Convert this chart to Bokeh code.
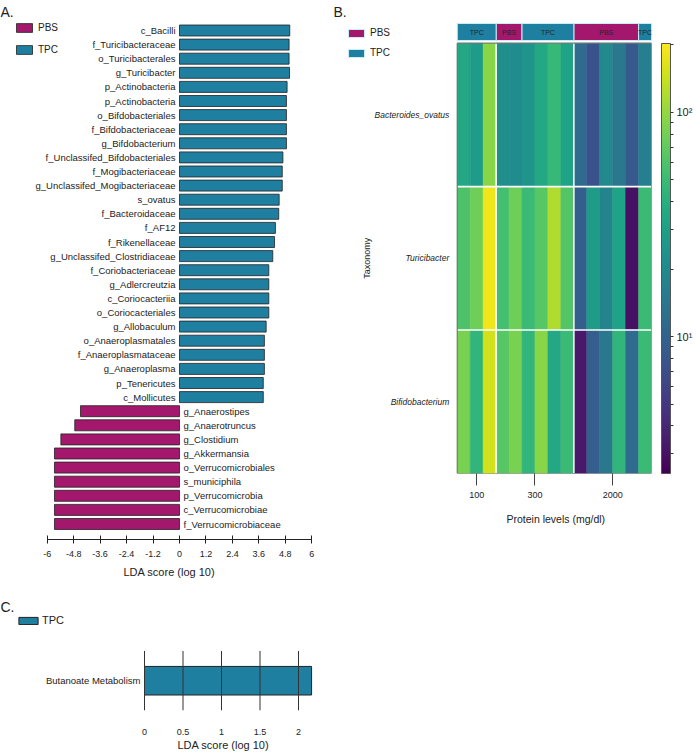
import math
from bokeh.plotting import figure
from bokeh.models import (Range1d, FixedTicker, Legend, LegendItem, Label, Title,
                          ColumnDataSource, LogColorMapper, ColorBar)
from bokeh.layouts import row, column
from bokeh.palettes import Viridis256
from bokeh.transform import transform
from bokeh.core.properties import value
from bokeh.embed import file_html
from bokeh.resources import INLINE

# ---------------- data ----------------
# Panel A: LEfSe LDA scores
tpc_taxa = ["c_Bacilli", "f_Turicibacteraceae", "o_Turicibacterales", "g_Turicibacter",
            "p_Actinobacteria", "p_Actinobacteria", "o_Bifdobacteriales", "f_Bifdobacteriaceae",
            "g_Bifdobacterium", "f_Unclassifed_Bifdobacteriales", "f_Mogibacteriaceae",
            "g_Unclassifed_Mogibacteriaceae", "s_ovatus", "f_Bacteroidaceae", "f_AF12",
            "f_Rikenellaceae", "g_Unclassifed_Clostridiaceae", "f_Coriobacteriaceae",
            "g_Adlercreutzia", "c_Coriocacteriia", "o_Coriocacteriales", "g_Allobaculum",
            "o_Anaeroplasmatales", "f_Anaeroplasmataceae", "g_Anaeroplasma", "p_Tenericutes",
            "c_Mollicutes"]
tpc_lda = [5.00, 4.97, 4.97, 4.99, 4.88, 4.85, 4.85, 4.85, 4.85, 4.69, 4.66, 4.66, 4.52,
           4.50, 4.35, 4.31, 4.23, 4.05, 4.05, 4.05, 4.05, 3.93, 3.85, 3.85, 3.85, 3.80, 3.80]
pbs_taxa = ["g_Anaerostipes", "g_Anaerotruncus", "g_Clostidium", "g_Akkermansia",
            "o_Verrucomicrobiales", "s_municiphila", "p_Verrucomicrobia", "c_Verrucomicrobiae",
            "f_Verrucomicrobiaceae"]
pbs_lda = [-4.49, -4.75, -5.38, -5.67, -5.67, -5.67, -5.67, -5.67, -5.67]
lda_ticks = [-6, -4.8, -3.6, -2.4, -1.2, 0, 1.2, 2.4, 3.6, 4.8, 6]
lda_tick_labels = ["-6", "-4.8", "-3.6", "-2.4", "-1.2", "0", "1.2", "2.4", "3.6", "4.8", "6"]

# Panel B: heatmap
heat_taxa = ["Bacteroides_ovatus", "Turicibacter", "Bifidobacterium"]
sample_group = ["TPC", "TPC", "TPC", "PBS", "PBS", "TPC", "TPC", "TPC", "TPC",
                "PBS", "PBS", "PBS", "PBS", "PBS", "TPC"]
sample_level = ["100", "100", "100", "300", "300", "300", "300", "300", "300",
                "2000", "2000", "2000", "2000", "2000", "2000"]
protein_levels = ["100", "300", "2000"]
ovatus_abund = [35, 28, 92, 22, 21, 24, 35, 47, 32, 11.5, 7.4, 20, 14.4, 8.4, 16.4]
turicibacter_abund = [59, 77, 186, 54, 77, 50, 64, 120, 62, 9.2, 28, 18, 32, 3.0, 50]
bifidobacterium_abund = [84, 45, 149, 64, 84, 45, 92, 35, 50, 3.3, 9.2, 14.4, 45, 11.5, 50]
cbar_ticks = [10, 100]
cbar_tick_labels = ["10\u00b9", "10\u00b2"]
cbar_minor_ticks = [3, 4, 5, 6, 7, 8, 9, 20, 30, 40, 50, 60, 70, 80, 90, 200]

# Panel C: pathway LDA
pathways = ["Butanoate Metabolism"]
pathway_lda = [2.17]
pathway_ticks = [0.0, 0.5, 1.0, 1.5, 2.0]

# ---------------- styles ----------------
FONT = "Liberation Sans"
TPC_COLOR = "#1e7fa1"
PBS_COLOR = "#a3186d"
GROUP_COLORS = {"TPC": TPC_COLOR, "PBS": PBS_COLOR}
DARK = "#222222"


def base_fig(**kw):
    p = figure(output_backend="svg", toolbar_location=None, frame_align=False, **kw)
    p.outline_line_color = None
    p.xgrid.visible = False
    p.ygrid.visible = False
    p.background_fill_color = "white"
    p.border_fill_color = "white"
    return p


def style_legend(leg, gw, gh, spacing, fs):
    leg.border_line_color = None
    leg.background_fill_alpha = 0
    leg.glyph_width = gw
    leg.glyph_height = gh
    leg.label_height = gh
    leg.label_width = 10
    leg.spacing = spacing
    leg.padding = 0
    leg.margin = 0
    leg.label_standoff = 4
    leg.label_text_font = FONT
    leg.label_text_font_size = fs
    leg.label_text_color = DARK


def axis_title(text, offset, standoff, size="11px"):
    return Title(text=text, align="left", offset=offset, standoff=standoff,
                 vertical_align="top", text_font=FONT, text_font_size=size,
                 text_font_style="normal", text_color=DARK)


# ================= Panel A =================
A_W, A_H = 320, 588
A_X0, A_KX = 179.0, 22.05      # px of LDA 0 and px per LDA unit
A_Y0, A_KY = 523.5, 14.1       # px of lowest bar centre and px per bar slot
A_FB = 539                     # frame bottom (axis line)


def a_x(px):
    return (px - A_X0) / A_KX


def a_y(py):
    return (A_Y0 - py) / A_KY


n_all = len(tpc_taxa) + len(pbs_taxa)
tpc_pos = [n_all - 1 - i for i in range(len(tpc_taxa))]
pbs_pos = [n_all - 1 - len(tpc_taxa) - i for i in range(len(pbs_taxa))]

pA = base_fig(width=A_W, height=A_H,
              x_range=Range1d(a_x(0), a_x(A_W)), y_range=Range1d(a_y(A_FB), a_y(0)),
              min_border_left=0, min_border_right=0, min_border_top=0,
              min_border_bottom=A_H - A_FB)
pA.yaxis.visible = False

src_tpc = ColumnDataSource(dict(y=tpc_pos, v=tpc_lda, name=tpc_taxa))
src_pbs = ColumnDataSource(dict(y=pbs_pos, v=pbs_lda, name=pbs_taxa))
rT = pA.hbar(y="y", left=0, right="v", height=0.78, source=src_tpc,
             fill_color=TPC_COLOR, line_color=DARK, line_width=0.8)
rP = pA.hbar(y="y", left=0, right="v", height=0.78, source=src_pbs,
             fill_color=PBS_COLOR, line_color=DARK, line_width=0.8)
pA.text(x=0, y="y", text="name", source=src_tpc, x_offset=-4, text_align="right",
        text_baseline="middle", text_font=value(FONT), text_font_size="9.5px", text_color=DARK)
pA.text(x=0, y="y", text="name", source=src_pbs, x_offset=4, text_align="left",
        text_baseline="middle", text_font=value(FONT), text_font_size="9.5px", text_color=DARK)

ax = pA.xaxis[0]
ax.ticker = FixedTicker(ticks=lda_ticks)
ax.bounds = (lda_ticks[0], lda_ticks[-1])
ax.major_label_overrides = {t: l for t, l in zip(lda_ticks, lda_tick_labels)}
ax.major_tick_in = 4
ax.major_tick_out = 4
ax.minor_tick_line_color = None
ax.axis_line_color = DARK
ax.major_tick_line_color = DARK
ax.major_label_standoff = 7
ax.major_label_text_font = FONT
ax.major_label_text_font_size = "9px"
ax.major_label_text_color = DARK
pA.add_layout(axis_title("LDA score (log 10)", 123, 13), "below")

legA = Legend(items=[LegendItem(label="PBS", renderers=[rP]),
                     LegendItem(label="TPC", renderers=[rT])],
              location=(14, 484))
style_legend(legA, 20, 11, 11, "10px")
pA.add_layout(legA)
pA.add_layout(Label(x=a_x(0), y=a_y(3), text="A.", text_font=FONT, text_font_size="14px",
                    text_baseline="top", text_align="left", text_color=DARK))

# ================= Panel B =================
B_LEFT = 320                   # canvas left edge on the page
B_W, B_H = 375, 541
B_X0, B_KX = 458.0, 13.07      # px of heatmap left edge, px per sample column
B_Y0, B_KY = 473.0, 143.45     # px of heatmap bottom, px per taxon row
B_FR = 654                     # frame right


def b_x(px):
    return (px - B_X0) / B_KX


def b_y(py):
    return (B_Y0 - py) / B_KY


ncols = len(sample_group)
nrows = len(heat_taxa)
row_values = [ovatus_abund, turicibacter_abund, bifidobacterium_abund]

pB = base_fig(width=B_W, height=B_H,
              x_range=Range1d(b_x(B_LEFT), b_x(B_FR)), y_range=Range1d(0, b_y(0)),
              min_border_left=0, min_border_right=B_LEFT + B_W - B_FR, min_border_top=0,
              min_border_bottom=B_H - int(B_Y0))

mapper = LogColorMapper(palette=Viridis256, low=2.45, high=203)
cx, cy, cv = [], [], []
for r, vals in enumerate(row_values):
    for c, v in enumerate(vals):
        cx.append(c + 0.5)
        cy.append(nrows - 1 - r + 0.5)
        cv.append(v)
src_heat = ColumnDataSource(dict(x=cx, y=cy, v=cv))
pB.rect(x="x", y="y", width=1, height=1, source=src_heat,
        fill_color=transform("v", mapper), line_color=transform("v", mapper), line_width=0.6)

# separators between taxa rows and protein-level groups
level_bounds = [i for i in range(1, ncols) if sample_level[i] != sample_level[i - 1]]
seg_x0 = [0] * (nrows - 1) + level_bounds
seg_x1 = [ncols] * (nrows - 1) + level_bounds
seg_y0 = list(range(1, nrows)) + [0] * len(level_bounds)
seg_y1 = list(range(1, nrows)) + [nrows] * len(level_bounds)
pB.segment(x0=seg_x0, y0=seg_y0, x1=seg_x1, y1=seg_y1, line_color="white", line_width=1.6)
pB.rect(x=ncols / 2, y=nrows / 2, width=ncols, height=nrows, fill_color=None,
        line_color="#6e6e6e", line_width=1)

# header annotation (runs of treatment group)
runs = []
start = 0
for i in range(1, ncols + 1):
    if i == ncols or sample_group[i] != sample_group[start]:
        runs.append((start, i, sample_group[start]))
        start = i
h_bot, h_top = b_y(40), b_y(23)
hdr_renderers = {}
for grp in ["PBS", "TPC"]:
    rr = [r for r in runs if r[2] == grp]
    s = ColumnDataSource(dict(x=[(a + b) / 2 for a, b, _ in rr], w=[b - a for a, b, _ in rr]))
    hdr_renderers[grp] = pB.rect(x="x", y=(h_bot + h_top) / 2, width="w", height=h_top - h_bot,
                                 source=s, fill_color=GROUP_COLORS[grp],
                                 line_color="#c9ecf6", line_width=1)
pB.text(x=[(a + b) / 2 for a, b, _ in runs], y=(h_bot + h_top) / 2, text=[g for _, _, g in runs],
        text_align="center", text_baseline="middle", text_font=value(FONT),
        text_font_size="7px", text_color="#262626")

# taxon labels and axis name (inside the frame so they are not clipped)
row_centers = [nrows - 1 - r + 0.5 for r in range(nrows)]
pB.text(x=0, y=row_centers, text=heat_taxa, x_offset=-8, text_align="right",
        text_baseline="middle", text_font=value(FONT), text_font_size="8.5px",
        text_font_style="italic", text_color=DARK)
pB.text(x=b_x(367), y=nrows / 2, text=["Taxonomy"], angle=math.pi / 2, text_align="center",
        text_baseline="middle", text_font=value(FONT), text_font_size="9px", text_color=DARK)
pB.yaxis.visible = False

level_centers = []
for lvl in protein_levels:
    idx = [i for i, l in enumerate(sample_level) if l == lvl]
    level_centers.append((idx[0] + idx[-1] + 1) / 2)
bx = pB.xaxis[0]
bx.ticker = FixedTicker(ticks=level_centers)
bx.major_label_overrides = {c: l for c, l in zip(level_centers, protein_levels)}
bx.axis_line_color = None
bx.major_tick_in = 0
bx.major_tick_out = 12
bx.major_tick_line_color = "#444444"
bx.minor_tick_line_color = None
bx.major_label_standoff = 6
bx.major_label_text_font = FONT
bx.major_label_text_font_size = "9px"
bx.major_label_text_color = DARK
pB.add_layout(axis_title("Protein levels (mg/dl)", 506 - B_LEFT, 24, "10.5px"), "below")

pB.add_layout(Label(x=b_x(333), y=b_y(3), text="B.", text_font=FONT, text_font_size="14px",
                    text_baseline="top", text_align="left", text_color=DARK))

legB = Legend(items=[LegendItem(label="PBS", renderers=[hdr_renderers["PBS"]]),
                     LegendItem(label="TPC", renderers=[hdr_renderers["TPC"]])],
              location=(346 - B_LEFT, 415))
style_legend(legB, 20, 10, 9, "10px")
pB.add_layout(legB)

cb = ColorBar(color_mapper=mapper,
              ticker=FixedTicker(ticks=cbar_ticks, minor_ticks=cbar_minor_ticks),
              major_label_overrides={t: l for t, l in zip(cbar_ticks, cbar_tick_labels)},
              width=9, height=430, location=(10, 0), margin=0, padding=0,
              label_standoff=3, major_tick_in=0, major_tick_out=3, minor_tick_in=0,
              minor_tick_out=3, major_tick_line_color="#333333",
              minor_tick_line_color="#333333", bar_line_color="#555555",
              major_label_text_font=FONT, major_label_text_font_size="11px",
              major_label_text_color=DARK, background_fill_color=None,
              border_line_color=None)
pB.add_layout(cb, "right")

# ================= Panel C =================
C_TOP = 588                    # canvas top on the page
C_W, C_H = 320, 165
C_X0, C_KX = 144.0, 77.0       # px of LDA 0, px per unit
C_Y0, C_KY = 715.0, 62.0       # px of band bottom, band height
C_FB = 715                     # frame bottom


def c_x(px):
    return (px - C_X0) / C_KX


def c_y(py):
    return (C_Y0 - py) / C_KY


pC = base_fig(width=C_W, height=C_H, x_range=Range1d(c_x(0), c_x(C_W)),
              y_range=Range1d(c_y(C_FB), c_y(C_TOP)),
              min_border_left=0, min_border_right=0, min_border_top=0,
              min_border_bottom=C_TOP + C_H - C_FB)
pC.yaxis.visible = False
path_pos = [len(pathways) - 0.5 - i for i in range(len(pathways))]
rC = pC.hbar(y=path_pos, left=0, right=pathway_lda, height=0.48,
             fill_color=TPC_COLOR, line_color=DARK, line_width=1)
# vertical reference lines at the axis ticks, spanning the pathway band
pC.segment(x0=pathway_ticks, x1=pathway_ticks, y0=0, y1=len(pathways),
           line_color="#333333", line_width=1)
pC.text(x=0, y=path_pos, text=pathways, x_offset=-4, text_align="right",
        text_baseline="middle", text_font=value(FONT), text_font_size="9.5px", text_color=DARK)

cxa = pC.xaxis[0]
cxa.ticker = FixedTicker(ticks=pathway_ticks)
cxa.axis_line_color = None
cxa.major_tick_line_color = None
cxa.minor_tick_line_color = None
cxa.major_label_standoff = 12
cxa.major_label_text_font = FONT
cxa.major_label_text_font_size = "9px"
cxa.major_label_text_color = DARK
pC.add_layout(axis_title("LDA score (log 10)", 177, 2), "below")

legC = Legend(items=[LegendItem(label="TPC", renderers=[rC])], location=(16, 84))
style_legend(legC, 24, 9, 0, "11px")
legC.label_standoff = 2
pC.add_layout(legC)
pC.add_layout(Label(x=c_x(0), y=c_y(599), text="C.", text_font=FONT, text_font_size="14px",
                    text_baseline="top", text_align="left", text_color=DARK))

layout = row(column(pA, pC), column(pB))
open("out.html", "w").write(file_html(layout, INLINE))
